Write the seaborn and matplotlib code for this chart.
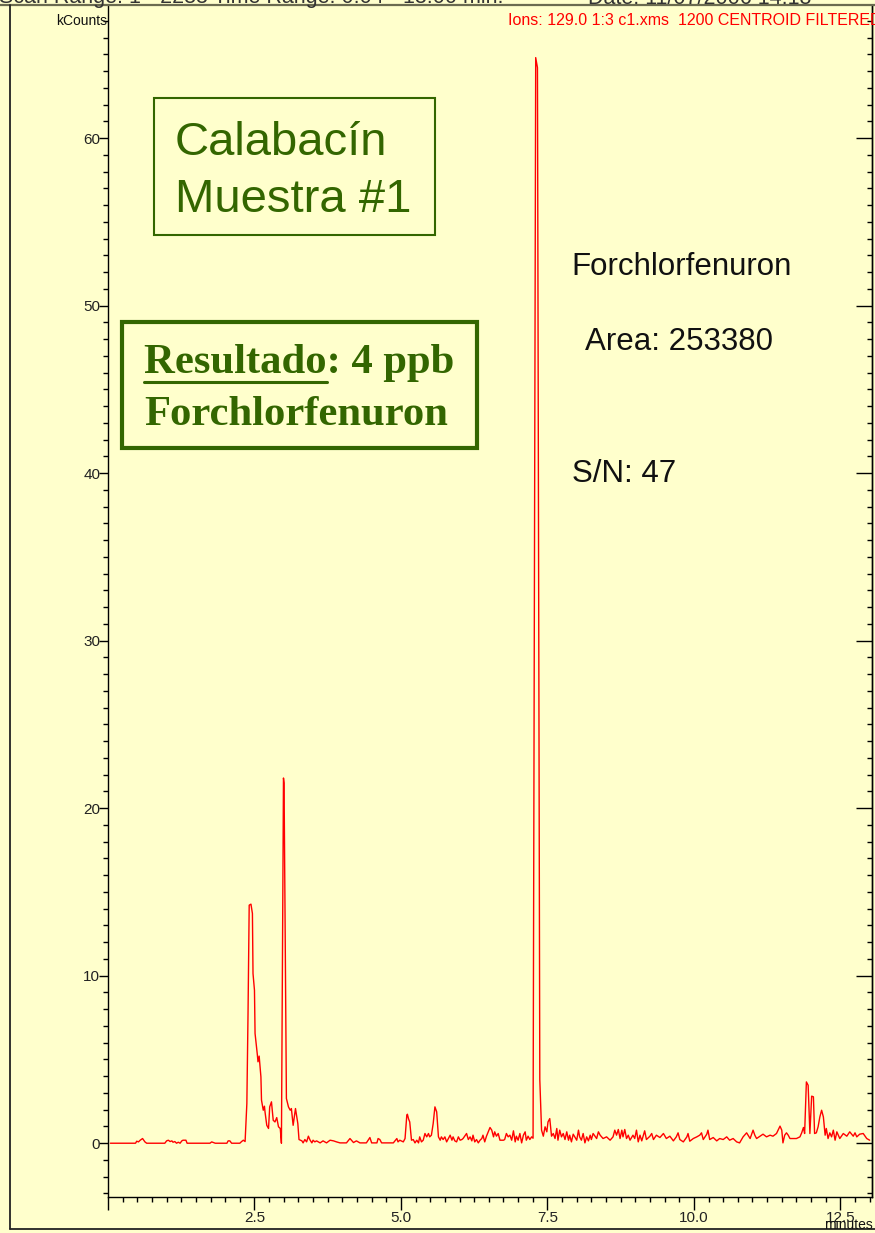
import matplotlib
matplotlib.use("Agg")
import matplotlib.pyplot as plt
from matplotlib.lines import Line2D
from matplotlib.patches import Rectangle
from matplotlib.ticker import MultipleLocator, FuncFormatter
import seaborn as sns
import pandas as pd

# ---------------- data ----------------
time_min = [
    0.04, 0.47, 0.49, 0.52, 0.55, 0.59, 0.63, 0.66, 0.97, 1.00, 1.03, 1.06, 1.09, 1.11, 1.14, 1.17,
    1.20, 1.23, 1.26, 1.28, 1.33, 1.35, 1.74, 1.77, 1.80, 1.83, 2.03, 2.05, 2.08, 2.11, 2.25, 2.28,
    2.31, 2.34,
    2.37, 2.39, 2.41, 2.44, 2.465, 2.475, 2.50, 2.51, 2.55, 2.56, 2.58, 2.61, 2.62, 2.65, 2.67, 2.68,
    2.71, 2.74, 2.76, 2.79, 2.82, 2.85, 2.88, 2.91, 2.94, 2.96,
    2.995, 3.005, 3.045, 3.08, 3.11, 3.13, 3.16, 3.20, 3.24, 3.26,
    3.31, 3.33, 3.36, 3.39, 3.42, 3.45, 3.48, 3.50, 3.53, 3.56, 3.62, 3.67, 3.73, 3.79, 3.85, 3.90,
    3.96, 4.07, 4.13, 4.19, 4.24, 4.30, 4.41, 4.47, 4.50, 4.59, 4.61, 4.64, 4.67, 4.87, 4.93, 4.95,
    4.98, 5.04, 5.07, 5.10, 5.11, 5.13, 5.15, 5.18, 5.21, 5.24, 5.27, 5.30, 5.32, 5.35, 5.38, 5.41,
    5.44, 5.47, 5.49, 5.52, 5.55, 5.58, 5.61, 5.64, 5.67, 5.69, 5.72, 5.75, 5.78, 5.84, 5.87, 5.89,
    5.92, 5.95, 5.98, 6.01, 6.04, 6.06, 6.12, 6.15, 6.18, 6.21, 6.23, 6.26, 6.29, 6.32, 6.35, 6.38,
    6.40, 6.43, 6.46, 6.49, 6.52, 6.55, 6.58, 6.60, 6.63, 6.66, 6.69, 6.75, 6.77, 6.80, 6.83, 6.86,
    6.89, 6.92, 6.95, 6.97, 7.00, 7.03, 7.06, 7.09, 7.12, 7.14, 7.17, 7.20, 7.23,
    7.255, 7.30, 7.33, 7.37, 7.40,
    7.43, 7.46, 7.49, 7.51, 7.54, 7.57, 7.60, 7.63, 7.66, 7.68, 7.71, 7.74, 7.77, 7.80, 7.83, 7.86,
    7.88, 7.91, 7.94, 8.00, 8.03, 8.05, 8.08, 8.11, 8.14, 8.17, 8.20, 8.23, 8.25, 8.28, 8.34, 8.37,
    8.40, 8.45, 8.51, 8.57, 8.62, 8.65, 8.68, 8.71, 8.74, 8.77, 8.79, 8.82, 8.85, 8.88, 8.91, 8.96,
    8.99, 9.02, 9.05, 9.08, 9.11, 9.13, 9.16, 9.19, 9.25, 9.28, 9.31, 9.36, 9.42, 9.48, 9.53, 9.59,
    9.65, 9.70, 9.73, 9.76, 9.82, 9.88, 9.90, 9.93, 9.99, 10.05, 10.10, 10.13, 10.16, 10.22, 10.24,
    10.27, 10.33, 10.39, 10.44, 10.50, 10.56, 10.61, 10.67, 10.73, 10.78, 10.84, 10.90, 10.96, 11.01,
    11.04, 11.07, 11.13, 11.18, 11.24, 11.30, 11.35, 11.41, 11.47, 11.50, 11.52, 11.55, 11.58, 11.61,
    11.64, 11.75, 11.81, 11.84, 11.87, 11.89, 11.92, 11.95, 11.98, 12.01, 12.04, 12.06, 12.09, 12.12,
    12.15, 12.18, 12.21, 12.24, 12.26, 12.29, 12.32, 12.35, 12.38, 12.41, 12.44, 12.49, 12.55, 12.61,
    12.66, 12.72, 12.75, 12.78, 12.83, 12.89, 12.95, 13.00,
]
kcounts = [
    0.0, 0.0, 0.12, 0.08, 0.18, 0.28, 0.08, 0.0, 0.0, 0.14, 0.18, 0.10, 0.14, 0.06, 0.10, 0.0,
    0.06, 0.0, 0.14, 0.18, 0.18, 0.0, 0.0, 0.08, 0.04, 0.0, 0.0, 0.14, 0.14, 0.0, 0.0, 0.10,
    0.18, 0.10,
    2.37, 7.74, 14.21, 14.27, 13.71, 10.13, 9.13, 6.55, 5.25, 4.86, 5.20, 3.96, 2.57, 1.97, 2.21, 1.87,
    1.07, 0.88, 2.17, 2.47, 1.37, 1.27, 1.53, 0.98, 0.88, 0.0,
    21.8, 21.5, 2.67, 2.17, 1.97, 2.07, 1.07, 2.07, 1.17, 0.22,
    0.14, 0.02, 0.22, 0.08, 0.42, 0.18, 0.02, 0.18, 0.08, 0.14, 0.02, 0.14, 0.02, 0.18, 0.14, 0.08,
    0.02, 0.02, 0.28, 0.04, 0.14, 0.02, 0.02, 0.34, 0.02, 0.02, 0.28, 0.22, 0.02, 0.02, 0.28, 0.08,
    0.18, 0.08, 0.28, 1.67, 1.73, 1.45, 1.27, 0.18, 0.22, 0.02, 0.18, 0.02, 0.38, 0.08, 0.18, 0.58,
    0.38, 0.58, 0.38, 0.48, 1.17, 2.17, 1.87, 0.38, 0.18, 0.38, 0.22, 0.38, 0.08, 0.48, 0.18, 0.38,
    0.14, 0.08, 0.38, 0.18, 0.22, 0.28, 0.58, 0.22, 0.38, 0.14, 0.48, 0.08, 0.22, 0.02, 0.18, 0.28,
    0.48, 0.08, 0.42, 0.68, 0.94, 0.78, 0.38, 0.68, 0.42, 0.58, 0.18, 0.18, 0.22, 0.58, 0.38, 0.48,
    0.18, 0.74, 0.08, 0.42, 0.18, 0.58, 0.02, 0.48, 0.68, 0.18, 0.42, 0.22, 0.38,
    0.30, 64.8, 64.2, 3.8, 0.78,
    0.42, 0.98, 0.68, 1.27, 1.47, 0.42, 0.58, 0.28, 0.88, 0.18, 0.78, 0.38, 0.58, 0.22, 0.68, 0.18,
    0.48, 0.08, 0.54, 0.18, 0.78, 0.38, 0.18, 0.58, 0.02, 0.38, 0.14, 0.48, 0.22, 0.58, 0.28, 0.68,
    0.48, 0.28, 0.38, 0.18, 0.38, 0.78, 0.48, 0.82, 0.28, 0.78, 0.38, 0.82, 0.28, 0.48, 0.18, 0.48,
    0.28, 0.78, 0.08, 0.48, 0.14, 0.38, 0.74, 0.22, 0.42, 0.58, 0.22, 0.48, 0.34, 0.58, 0.28, 0.42,
    0.14, 0.38, 0.62, 0.22, 0.08, 0.38, 0.58, 0.12, 0.28, 0.38, 0.48, 0.62, 0.22, 0.54, 0.78,
    0.22, 0.34, 0.14, 0.28, 0.22, 0.38, 0.18, 0.28, 0.08, 0.02, 0.38, 0.62, 0.28, 0.78,
    0.48, 0.28, 0.42, 0.54, 0.38, 0.48, 0.42, 0.58, 1.02, 0.78, 0.02, 0.48, 0.62, 0.48,
    0.28, 0.28, 0.38, 0.62, 0.94, 0.58, 3.66, 3.46, 0.58, 2.81, 2.77, 0.58, 0.62, 0.98,
    1.57, 1.97, 1.57, 0.48, 0.88, 0.28, 0.62, 0.38, 0.78, 0.18, 0.68, 0.28, 0.58, 0.42,
    0.68, 0.42, 0.62, 0.38, 0.54, 0.58, 0.28, 0.18,
]

y_major_ticks = [0, 10, 20, 30, 40, 50, 60]
x_major_ticks = [0.0, 2.5, 5.0, 7.5, 10.0, 12.5]

title_left = "Scan Range: 1 - 2283 Time Range: 0.04 - 13.00 min."
title_right = "Date: 11/07/2006 14:18"
ion_label = "Ions: 129.0 1:3 c1.xms  1200 CENTROID FILTERED"
y_unit = "kCounts"
x_unit = "minutes"

# ---------------- style ----------------
W, H = 875, 1233
BG = "#FFFFCC"
GREEN = "#336600"
sns.set_theme(style="ticks")
plt.rcParams["font.family"] = ["Liberation Sans", "DejaVu Sans"]
plt.rcParams["axes.facecolor"] = BG
plt.rcParams["figure.facecolor"] = BG


def fx(px):
    return px / W


def fy(py):
    return 1 - py / H


fig = plt.figure(figsize=(W / 100, H / 100), dpi=100)
ax = fig.add_axes([fx(108), fy(1197), fx(872) - fx(108), fy(5) - fy(1197)])

df = pd.DataFrame({"t": time_min, "k": kcounts})
sns.lineplot(data=df, x="t", y="k", ax=ax, color="#FF0000", linewidth=1.0,
             estimator=None, sort=False)

ax.set_xlim(0.0, 13.04)
ax.set_ylim(-3.21, 67.94)
ax.set_xlabel("")
ax.set_ylabel("")

for s in ["left", "bottom", "right"]:
    ax.spines[s].set_color("black")
    ax.spines[s].set_linewidth(1.0)
ax.spines["top"].set_visible(False)

ax.set_xticks(x_major_ticks)
ax.xaxis.set_minor_locator(MultipleLocator(0.25))
ax.xaxis.set_major_formatter(FuncFormatter(lambda v, p: "" if abs(v) < 1e-9 else f"{v:.1f}"))
ax.set_yticks(y_major_ticks)
ax.yaxis.set_minor_locator(MultipleLocator(1))

ax.tick_params(axis="x", which="major", direction="out", length=9.4, width=1.0,
               color="black", labelsize=11, labelcolor="#222222", pad=0.5)
ax.tick_params(axis="x", which="minor", direction="out", length=3.6, width=1.0, color="black")
ax.tick_params(axis="y", which="major", direction="out", length=6.5, width=1.0,
               color="black", labelsize=11, labelcolor="#222222", pad=-1.0, right=False)
ax.tick_params(axis="y", which="minor", direction="out", length=3.6, width=1.0,
               color="black", right=False)

ax2 = ax.twinx()
ax2.set_ylim(ax.get_ylim())
ax2.set_yticks(y_major_ticks)
ax2.yaxis.set_minor_locator(MultipleLocator(1))
ax2.tick_params(axis="y", which="major", direction="in", length=11.5, width=1.0,
                color="black", labelright=False)
ax2.tick_params(axis="y", which="minor", direction="in", length=3.6, width=1.0, color="black")
for s in ["left", "bottom", "top"]:
    ax2.spines[s].set_visible(False)
ax2.spines["right"].set_color("black")
ax2.spines["right"].set_linewidth(1.0)
ax2.grid(False)
ax.grid(False)

# ---------------- frame & header texts ----------------
fig.add_artist(Line2D([0, 1], [fy(5), fy(5)], transform=fig.transFigure,
                      color="#6b6b50", linewidth=1.6))
fig.add_artist(Line2D([fx(9.5), fx(9.5)], [fy(5), fy(1229)], transform=fig.transFigure,
                      color="#222222", linewidth=1.3))
fig.add_artist(Line2D([fx(9.5), 1], [fy(1229), fy(1229)], transform=fig.transFigure,
                      color="#222222", linewidth=1.3))

fig.text(fx(-1), fy(3.5), title_left, fontsize=15.5, color="#333333", va="baseline", ha="left")
fig.text(fx(588), fy(3.5), title_right, fontsize=15.5, color="#333333", va="baseline", ha="left")
fig.text(fx(107), fy(25), y_unit, fontsize=10, color="#111111", va="baseline", ha="right")
fig.text(fx(508), fy(25), ion_label, fontsize=11.5, color="#FF0000", va="baseline", ha="left")
fig.text(fx(873), fy(1229), x_unit, fontsize=10, color="#111111", va="baseline", ha="right")

# ---------------- annotation boxes ----------------
fig.add_artist(Rectangle((fx(153.5), fy(235)), fx(435) - fx(153.5), fy(98.5) - fy(235),
                         transform=fig.transFigure, fill=False, edgecolor=GREEN, linewidth=1.5))
fig.text(fx(175), fy(155), "Calabacín", fontsize=34, color=GREEN, va="baseline", ha="left")
fig.text(fx(175), fy(211.7), "Muestra #1", fontsize=34, color=GREEN, va="baseline", ha="left")

fig.add_artist(Rectangle((fx(122), fy(448)), fx(476.5) - fx(122), fy(322) - fy(448),
                         transform=fig.transFigure, fill=False, edgecolor=GREEN, linewidth=3))
serif = dict(fontfamily=["Liberation Serif", "DejaVu Serif"], fontweight="bold", fontsize=30.7,
             color=GREEN, va="baseline", ha="left")
fig.text(fx(144), fy(373.3), "Resultado: 4 ppb", **serif)
fig.text(fx(144), fy(425), "Forchlorfenuron", **serif)
meas = fig.text(fx(144), fy(373.3), "Resultado", alpha=0, **serif)
renderer = fig.canvas.get_renderer()
bb = meas.get_window_extent(renderer)
meas.remove()
fig.add_artist(Line2D([fx(144), fx(144) + bb.width / W], [fy(381.5), fy(381.5)],
                      transform=fig.transFigure, color=GREEN, linewidth=2.2))

fig.text(fx(571.7), fy(275), "Forchlorfenuron", fontsize=22.5, color="#111111", va="baseline")
fig.text(fx(585), fy(350), "Area: 253380", fontsize=22.5, color="#111111", va="baseline")
fig.text(fx(571.7), fy(481.7), "S/N: 47", fontsize=22.5, color="#111111", va="baseline")

fig.savefig("out.png", dpi=100, facecolor=BG)
